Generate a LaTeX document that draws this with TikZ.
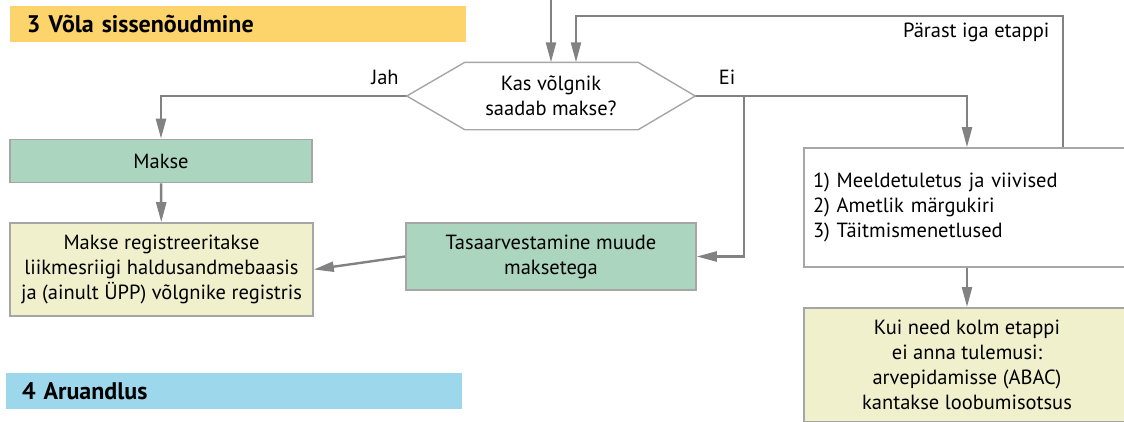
\documentclass[tikz,border=0pt]{standalone}
\usepackage{fontspec}
\setmainfont{PT Sans}
\usetikzlibrary{arrows.meta,positioning}

\definecolor{hdrYellow}{HTML}{FDD46B}
\definecolor{hdrBlue}{HTML}{9DD7EC}
\definecolor{boxGreen}{HTML}{ABD5BE}
\definecolor{boxPale}{HTML}{F0F0CD}
\definecolor{lineGray}{HTML}{828282}
\definecolor{edgeGray}{HTML}{A6A6A6}

\begin{document}
\begin{tikzpicture}[x=1pt,y=-1pt,
    every node/.style={font=\fontsize{20.5pt}{25pt}\selectfont},
    hdr/.style={text width=422pt,inner xsep=17pt,inner ysep=0pt,minimum height=36pt,align=left,
      font=\fontsize{24pt}{25pt}\selectfont\bfseries},
    box/.style={draw=edgeGray,line width=1.6pt,align=center},
    conn/.style={-{Triangle[length=20pt,width=10pt]},draw=lineGray,line width=2.4pt},
    hexline/.style={draw=edgeGray,line width=1.4pt}]
  \useasboundingbox (0,0) rectangle (1124,421);

  \node[hdr,fill=hdrYellow] (hdrColl) at (238,24) {3 Võla sissenõudmine};
  \node[hdr,fill=hdrBlue,inner xsep=16pt,text width=424pt] (hdrRep) at (234,391) {4 Aruandlus};

  \node[align=center,minimum width=288pt,minimum height=67pt] (quest) at (551,96) {Kas võlgnik\\saadab makse?};
  \node[box,fill=boxGreen,minimum width=302pt,minimum height=43pt] (makse) at (161,161) {Makse};
  \node[box,fill=boxPale,minimum width=303pt,minimum height=93pt] (reg) at (161.5,269.5)
    {Makse registreeritakse\\liikmesriigi haldusandmebaasis\\ja (ainult ÜPP) võlgnike registris};
  \node[box,fill=boxGreen,minimum width=290pt,minimum height=67pt] (tasa) at (551,256.5)
    {Tasaarvestamine muude\\maksetega};
  \node[box,fill=white,minimum width=326pt,minimum height=119pt,text width=308pt,align=left] (plan) at (967,207.5)
    {1) Meeldetuletus ja viivised\\2) Ametlik märgukiri\\3) Täitmismenetlused};
  \node[box,fill=boxPale,minimum width=326pt,inner ysep=12pt,anchor=north] (final) at (967,307)
    {Kui need kolm etappi\\ei anna tulemusi:\\arvepidamisse (ABAC)\\kantakse loobumisotsus};

  \node (jah) at (385,77) {Jah};
  \node (ei) at (727,77) {Ei};
  \node[anchor=east] (after) at (1053,32) {Pärast iga etappi};

  \coordinate (inTop) at (551,0);
  \coordinate (loopTop) at (1063,16);
  \coordinate (split) at ([xshift=49pt]quest.east);

  \draw[conn] (inTop) -- (quest.north);
  \draw[conn] (plan.north -| loopTop) -- (loopTop) -| ([xshift=25pt]quest.north);
  \draw[conn] (quest.west) -| (makse.north);
  \draw[conn] (makse) -- (reg);
  \draw[conn] (quest.east) -| (plan.north);
  \draw[conn] (split) |- (tasa.east);
  \draw[conn] (tasa.west) -- (reg.east);
  \draw[conn] (plan) -- (final);

  \draw[hexline] (quest.west) -- ([xshift=58pt]quest.north west) -- ([xshift=-57pt]quest.north east)
    -- (quest.east) -- ([xshift=-57pt]quest.south east) -- ([xshift=58pt]quest.south west) -- cycle;
\end{tikzpicture}
\end{document}
